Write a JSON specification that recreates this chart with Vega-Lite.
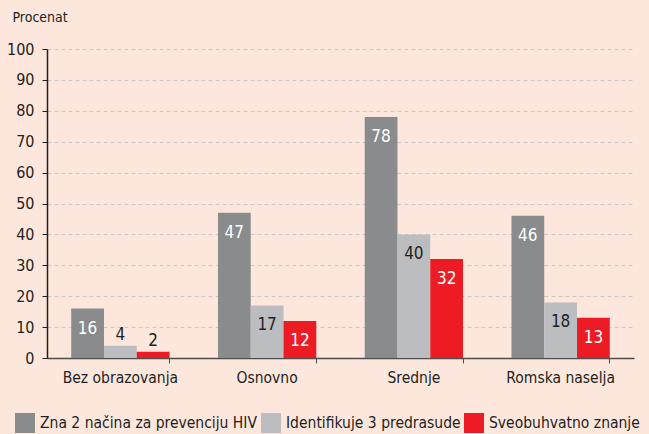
{
  "$schema": "https://vega.github.io/schema/vega-lite/v6.json",
  "width": 587,
  "height": 309,
  "autosize": {"type": "none"},
  "padding": {"left": 47, "top": 49, "right": 15, "bottom": 76},
  "background": "#fde7dd",
  "config": {
    "view": {"stroke": null},
    "font": "DejaVu Sans Condensed, sans-serif"
  },
  "data": {
    "values": [
      {"category": "Bez obrazovanja", "series": "Zna 2 načina za prevenciju HIV", "value": 16},
      {"category": "Bez obrazovanja", "series": "Identifikuje 3 predrasude", "value": 4},
      {"category": "Bez obrazovanja", "series": "Sveobuhvatno znanje", "value": 2},
      {"category": "Osnovno", "series": "Zna 2 načina za prevenciju HIV", "value": 47},
      {"category": "Osnovno", "series": "Identifikuje 3 predrasude", "value": 17},
      {"category": "Osnovno", "series": "Sveobuhvatno znanje", "value": 12},
      {"category": "Srednje", "series": "Zna 2 načina za prevenciju HIV", "value": 78},
      {"category": "Srednje", "series": "Identifikuje 3 predrasude", "value": 40},
      {"category": "Srednje", "series": "Sveobuhvatno znanje", "value": 32},
      {"category": "Romska naselja", "series": "Zna 2 načina za prevenciju HIV", "value": 46},
      {"category": "Romska naselja", "series": "Identifikuje 3 predrasude", "value": 18},
      {"category": "Romska naselja", "series": "Sveobuhvatno znanje", "value": 13}
    ]
  },
  "encoding": {
    "x": {
      "field": "category",
      "type": "nominal",
      "sort": ["Bez obrazovanja", "Osnovno", "Srednje", "Romska naselja"],
      "scale": {"paddingInner": 0.33, "paddingOuter": 0.165},
      "axis": {
        "title": null,
        "labelAngle": 0,
        "labelFontSize": 15.5,
        "labelColor": "#231f20",
        "labelPadding": 7,
        "domainColor": "#4d4d4d",
        "domainWidth": 1.5,
        "tickColor": "#4d4d4d",
        "tickSize": 5,
        "bandPosition": 1,
        "grid": false
      }
    },
    "xOffset": {
      "field": "series",
      "type": "nominal",
      "sort": ["Zna 2 načina za prevenciju HIV", "Identifikuje 3 predrasude", "Sveobuhvatno znanje"],
      "scale": {"paddingInner": 0, "paddingOuter": 0}
    },
    "y": {
      "field": "value",
      "type": "quantitative",
      "scale": {"domain": [0, 100], "nice": false},
      "axis": {
        "values": [0, 10, 20, 30, 40, 50, 60, 70, 80, 90, 100],
        "title": "Procenat",
        "titleAngle": 0,
        "titleX": -35,
        "titleY": -28,
        "titleAlign": "left",
        "titleBaseline": "alphabetic",
        "titleFontSize": 14,
        "titleFontWeight": "normal",
        "titleColor": "#231f20",
        "labelFontSize": 16,
        "labelColor": "#231f20",
        "labelPadding": 8,
        "tickSize": 5,
        "tickColor": "#231f20",
        "domainColor": "#231f20",
        "domainWidth": 1.5,
        "grid": true,
        "gridColor": "#c9c9c9",
        "gridDash": [4, 3],
        "gridWidth": 1
      }
    }
  },
  "layer": [
    {
      "mark": {"type": "bar"},
      "encoding": {
        "color": {
          "field": "series",
          "type": "nominal",
          "sort": ["Zna 2 načina za prevenciju HIV", "Identifikuje 3 predrasude", "Sveobuhvatno znanje"],
          "scale": {"range": ["#8a8b8d", "#bcbdc0", "#ed1c24"]},
          "legend": {
            "title": null,
            "orient": "none",
            "direction": "horizontal",
            "legendX": -32,
            "legendY": 364,
            "symbolType": "square",
            "symbolSize": 400,
            "symbolStrokeWidth": 0,
            "symbolOpacity": 1,
            "labelFontSize": 15.5,
            "labelColor": "#231f20",
            "labelOffset": 5,
            "columnPadding": 3,
            "padding": 0,
            "labelLimit": 400
          }
        }
      }
    },
    {
      "transform": [{"filter": "datum.value >= 10"}],
      "mark": {"type": "text", "baseline": "alphabetic", "dy": 25, "fontSize": 17},
      "encoding": {
        "text": {"field": "value", "type": "quantitative"},
        "color": {
          "condition": {"test": "datum.series === 'Identifikuje 3 predrasude'", "value": "#231f20"},
          "value": "#ffffff"
        }
      }
    },
    {
      "transform": [{"filter": "datum.value < 10"}],
      "mark": {"type": "text", "baseline": "alphabetic", "dy": -6, "fontSize": 17, "color": "#231f20"},
      "encoding": {
        "text": {"field": "value", "type": "quantitative"}
      }
    }
  ]
}
